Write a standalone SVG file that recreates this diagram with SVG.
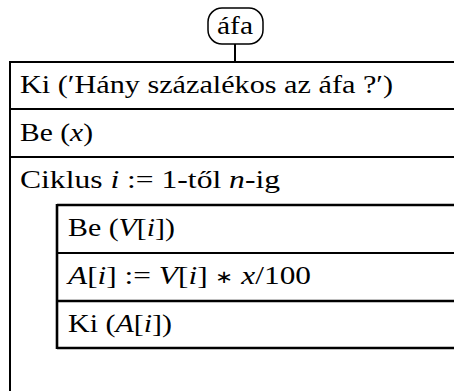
<svg xmlns="http://www.w3.org/2000/svg" width="454" height="391" viewBox="0 0 454 391">
<style>
.t{font-family:"Liberation Serif","Times New Roman",serif;font-size:26px;fill:#000}
.i{font-style:italic}
.s{font-size:18px}
.l{stroke:#000;stroke-width:2;fill:none}
.b{stroke:#000;stroke-width:2.6;fill:none}
</style>
<rect width="454" height="391" fill="#fff"/>
<g id="start">
<rect x="208" y="8" width="55" height="36" rx="14" ry="14" fill="#fff" stroke="#000" stroke-width="1.5"/>
<text class="t" x="217" y="34" textLength="36" lengthAdjust="spacingAndGlyphs">áfa</text>
</g>
<g id="connectors">
<line class="l" x1="235" y1="44" x2="235" y2="62"/>
</g>
<g id="frame">
<line class="l" x1="10" y1="62" x2="456" y2="62"/>
<line class="l" x1="10" y1="61" x2="10" y2="392"/>
</g>
<g id="row1">
<line class="l" x1="10" y1="109" x2="456" y2="109"/>
<text class="t" x="20" y="93" textLength="373" lengthAdjust="spacingAndGlyphs">Ki (′Hány százalékos az áfa ?′)</text>
</g>
<g id="row2">
<line class="l" x1="10" y1="157" x2="456" y2="157"/>
<text class="t" x="20" y="141" textLength="73" lengthAdjust="spacingAndGlyphs">Be (<tspan class="i">x</tspan>)</text>
</g>
<g id="loop">
<text class="t" x="20" y="188" textLength="260" lengthAdjust="spacingAndGlyphs">Ciklus <tspan class="i">i</tspan> := 1-től <tspan class="i">n</tspan>-ig</text>
</g>
<g id="inner">
<line class="b" x1="57" y1="205" x2="456" y2="205"/>
<line class="b" x1="57" y1="204" x2="57" y2="349"/>
<line class="b" x1="57" y1="348" x2="456" y2="348"/>
<line class="l" x1="57" y1="253" x2="456" y2="253"/>
<line class="b" x1="57" y1="301" x2="456" y2="301"/>
</g>
<g id="in1"><text class="t" x="68" y="236" textLength="107" lengthAdjust="spacingAndGlyphs">Be (<tspan class="i">V</tspan>[<tspan class="i">i</tspan>])</text></g>
<g id="in2"><text class="t" x="68" y="284" textLength="243" lengthAdjust="spacingAndGlyphs"><tspan class="i">A</tspan>[<tspan class="i">i</tspan>] := <tspan class="i">V</tspan>[<tspan class="i">i</tspan>] <tspan class="s" dy="-1">∗</tspan> <tspan class="i" dy="1">x</tspan>/100</text></g>
<g id="in3"><text class="t" x="68" y="332" textLength="104" lengthAdjust="spacingAndGlyphs">Ki (<tspan class="i">A</tspan>[<tspan class="i">i</tspan>])</text></g>
</svg>
